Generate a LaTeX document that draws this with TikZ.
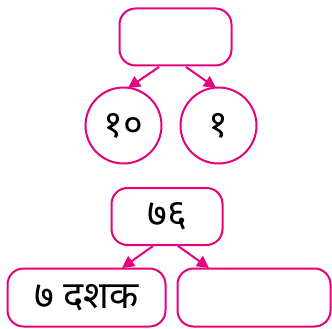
\documentclass[tikz,border=0pt]{standalone}
\usepackage{fontspec}
\newfontfamily\deva[Script=Devanagari]{Noto Sans}
\usetikzlibrary{arrows.meta}
\definecolor{mag}{RGB}{230,0,126}
\tikzset{
  box/.style={draw=mag, line width=2pt, rounded corners=16pt, inner sep=0pt},
  circ/.style={draw=mag, line width=2pt, circle, inner sep=0pt, minimum size=76pt},
  conn/.style={draw=mag, line width=2pt, -{Triangle[length=12pt,width=12pt]}},
  lbl/.style={font=\deva\fontsize{38}{42}\selectfont, text=black}
}
\begin{document}
\begin{tikzpicture}[x=1pt,y=-1pt]
\useasboundingbox (0,0) rectangle (332,329);
\node[box, minimum width=112pt, minimum height=57pt] (top) at (175.5,37) {};
\node[circ, lbl] (c1) at (123.5,125.5) {१०};
\node[circ, lbl] (c2) at (218.5,125.5) {१};
\coordinate (t1) at (159,67);
\coordinate (t2) at (186,67);
\coordinate (e1) at (128,88);
\coordinate (e2) at (216,88);
\draw[conn] (t1) -- (e1);
\draw[conn] (t2) -- (e2);
\node[box, lbl, minimum width=111pt, minimum height=57pt] (mid) at (167,216.5) {७६};
\node[box, lbl, minimum width=158pt, minimum height=58pt] (b1) at (86.5,297.5) {७ दशक};
\node[box, minimum width=153pt, minimum height=58pt] (b2) at (254,297.5) {};
\coordinate (m1) at (153,246);
\coordinate (m2) at (178,246);
\coordinate (f1) at (122,268);
\coordinate (f2) at (209,268);
\draw[conn] (m1) -- (f1);
\draw[conn] (m2) -- (f2);
\end{tikzpicture}
\end{document}
